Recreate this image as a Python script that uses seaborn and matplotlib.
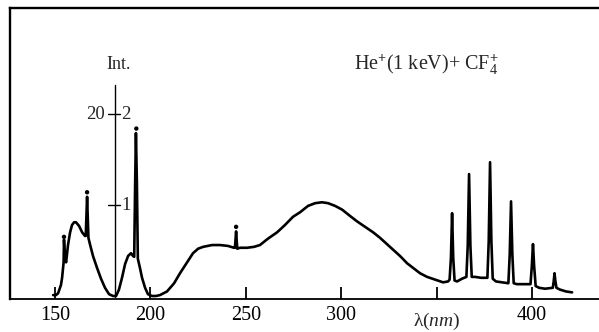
import matplotlib
matplotlib.use("Agg")
import matplotlib.pyplot as plt
import seaborn as sns
import pandas as pd

# Emission spectrum: wavelength (nm) and intensity (arb. units, right scale)
wavelength = [
    149.0, 150.5, 151.6, 153.1, 153.7, 154.2, 154.5, 154.7, 155.2, 155.8,
    156.8, 157.9, 158.9, 160.0, 161.0, 162.6, 164.2, 165.7, 166.1, 166.8,
    167.5, 168.3, 169.9, 172.0, 174.1, 176.2, 178.3, 180.4, 182.0, 183.5,
    185.1, 186.7, 188.3, 189.8, 190.9, 191.5, 192.0, 192.4, 192.9, 193.4,
    194.5, 195.6, 197.2, 198.7, 200.8, 202.9, 205.0, 208.7, 212.4, 215.5,
    219.2, 222.3, 225.0, 227.6, 232.3, 236.5, 240.7, 243.8, 244.3, 244.9,
    245.5, 247.0, 250.6, 254.3, 257.4, 261.6, 266.4, 270.5, 274.7, 278.4,
    282.6, 286.3, 289.9, 293.1, 296.8, 300.4, 304.6, 308.3, 312.5, 316.7,
    320.3, 324.0, 327.1, 330.8, 334.5, 337.6, 341.3, 345.0, 349.2, 353.4,
    356.0, 356.8, 357.5, 358.1, 358.7, 359.4, 360.7, 363.3, 365.6, 366.3,
    367.0, 367.7, 368.4, 370.1, 373.3, 376.6, 377.3, 378.0, 378.7, 379.4,
    381.1, 384.3, 387.6, 388.3, 389.0, 389.7, 390.4, 392.1, 395.3, 399.2,
    399.9, 400.5, 401.1, 401.9, 403.7, 406.8, 410.9, 411.4, 411.8, 412.2,
    412.8, 414.7, 417.8, 421.0,
]
intensity = [
    0.01, 0.01, 0.03, 0.12, 0.20, 0.31, 0.37, 0.62, 0.42, 0.37,
    0.56, 0.70, 0.78, 0.81, 0.81, 0.77, 0.70, 0.66, 0.66, 1.09,
    0.64, 0.57, 0.44, 0.31, 0.19, 0.09, 0.02, 0.00, 0.00, 0.07,
    0.20, 0.35, 0.44, 0.47, 0.44, 0.43, 1.25, 1.79, 1.25, 0.41,
    0.31, 0.20, 0.09, 0.02, 0.00, 0.00, 0.01, 0.05, 0.14, 0.25,
    0.37, 0.47, 0.52, 0.54, 0.56, 0.56, 0.55, 0.53, 0.53, 0.71,
    0.52, 0.53, 0.53, 0.54, 0.56, 0.63, 0.70, 0.78, 0.87, 0.92,
    0.99, 1.02, 1.03, 1.02, 0.99, 0.95, 0.88, 0.82, 0.76, 0.70,
    0.64, 0.57, 0.51, 0.44, 0.36, 0.31, 0.25, 0.21, 0.18, 0.15,
    0.16, 0.18, 0.42, 0.91, 0.42, 0.17, 0.16, 0.19, 0.21, 0.55,
    1.34, 0.55, 0.21, 0.21, 0.20, 0.20, 0.60, 1.47, 0.60, 0.19,
    0.16, 0.15, 0.14, 0.45, 1.04, 0.45, 0.14, 0.13, 0.13, 0.13,
    0.33, 0.57, 0.33, 0.11, 0.09, 0.08, 0.09, 0.17, 0.25, 0.17,
    0.09, 0.07, 0.05, 0.04,
]

# Marked lines (dots above peaks)
mark_wavelength = [154.7, 166.8, 192.6, 244.9]
mark_intensity = [0.65, 1.14, 1.84, 0.76]

# Axis ticks
x_ticks = [150, 200, 250, 300, 350, 400]
x_tick_labels = ["150", "200", "250", "300", "", "400"]

spectrum = pd.DataFrame({"wavelength": wavelength, "intensity": intensity})
marks = pd.DataFrame({"wavelength": mark_wavelength, "intensity": mark_intensity})

sns.set_theme(style="white")
plt.rcParams["font.family"] = ["Liberation Serif", "DejaVu Serif"]
plt.rcParams["mathtext.fontset"] = "custom"
plt.rcParams["mathtext.rm"] = "Liberation Serif"
plt.rcParams["mathtext.it"] = "Liberation Serif:italic"
plt.rcParams["mathtext.bf"] = "Liberation Serif:bold"

fig = plt.figure(figsize=(5.99, 3.32), dpi=100)
ax = fig.add_axes([10 / 599, 33 / 332, 589 / 599, 291 / 332])

sns.lineplot(data=spectrum, x="wavelength", y="intensity", ax=ax,
             color="black", linewidth=1.9, sort=False, estimator=None,
             solid_joinstyle="round")
sns.scatterplot(data=marks, x="wavelength", y="intensity", ax=ax,
                color="black", s=10, edgecolor="none", zorder=5)

ax.set_xlim(126.4, 435.1)
ax.set_ylim(-0.033, 3.165)
ax.set_xlabel("")
ax.set_ylabel("")
ax.set_yticks([])
ax.set_xticks(x_ticks)
ax.set_xticklabels(x_tick_labels)
ax.tick_params(axis="x", direction="in", length=9, width=1.3,
               labelsize=14.5, pad=5, color="black", labelcolor="black",
               bottom=True)

for side in ("left", "top", "bottom"):
    ax.spines[side].set_color("black")
ax.spines["left"].set_linewidth(1.7)
ax.spines["top"].set_linewidth(1.7)
ax.spines["bottom"].set_linewidth(1.3)
ax.spines["right"].set_visible(False)

# Inner intensity scale
ax.plot([181.2, 181.2], [-0.01, 2.32], color="black", lw=1.0)
for level in (1, 2):
    ax.plot([177.6, 183.9], [level, level], color="black", lw=1.0)
ax.text(183.5, 2.49, "Int.", ha="center", va="baseline", fontsize=13)
ax.text(176.3, 2.0, "20", ha="right", va="center", fontsize=13.5)
ax.text(184.6, 2.0, "2", ha="left", va="center", fontsize=13.5)
ax.text(184.6, 1.0, "1", ha="left", va="center", fontsize=13.5)

ax.text(344.4, 2.48, r"He$^{\mathbf{+}}$(1 keV)+ CF$_{4}^{\mathbf{+}}$",
        ha="center", va="baseline", fontsize=14.5)
ax.text(350, -0.325, r"λ($nm$)", ha="center", va="baseline", fontsize=14,
        clip_on=False)

fig.savefig("out.png", dpi=100)
